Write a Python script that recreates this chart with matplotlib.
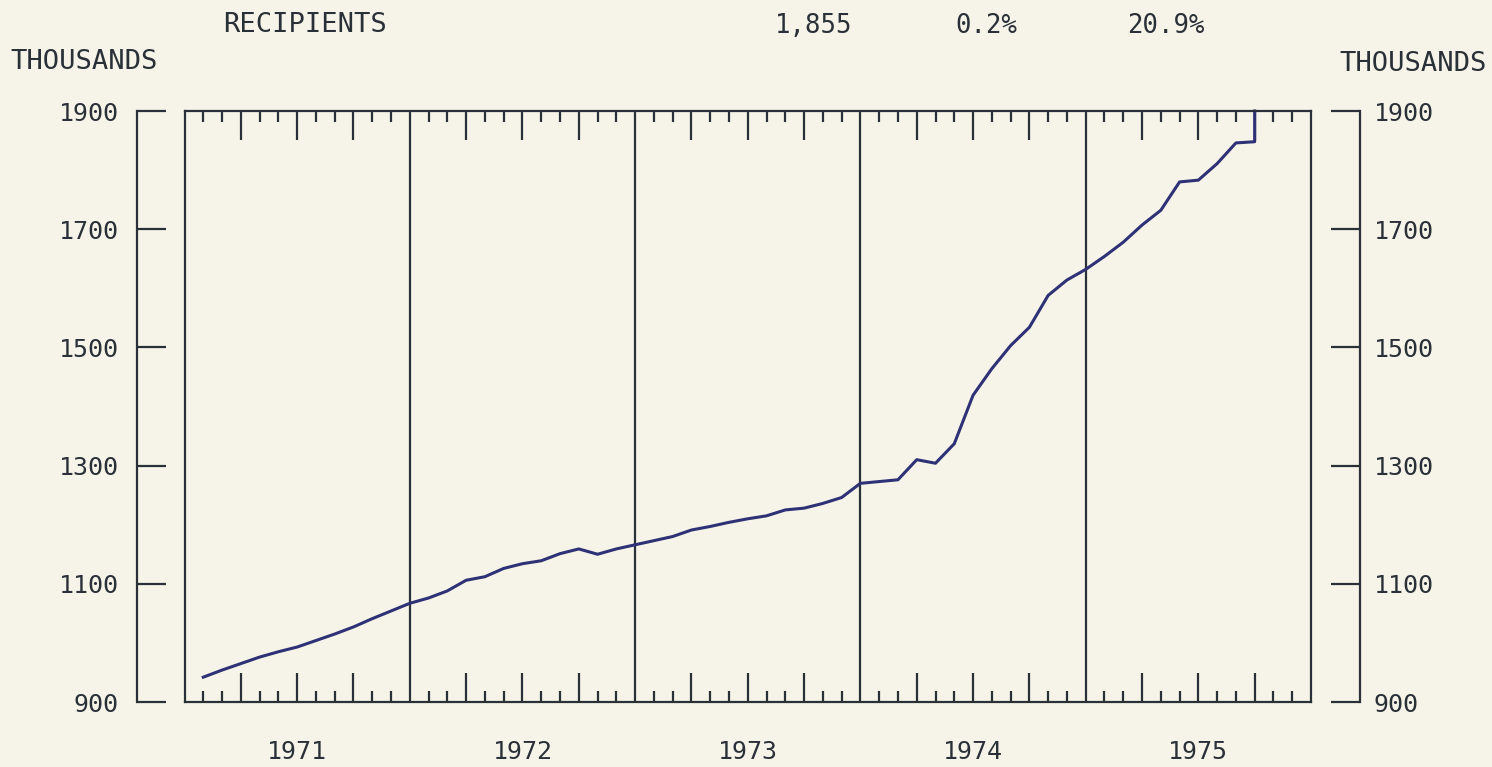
import matplotlib.pyplot as plt
import numpy as np
from matplotlib.ticker import FixedLocator
import matplotlib.transforms as mtransforms

# monthly recipients, thousands (month 1 = Jan 1971)
months = list(range(1, 58))
recipients = [942, 954, 965, 976, 985, 993, 1004, 1015, 1027, 1041, 1054, 1067,
              1076, 1088, 1106, 1112, 1126, 1134, 1139, 1151, 1159, 1150, 1159, 1166,
              1173, 1180, 1191, 1197, 1204, 1210, 1215, 1225, 1228, 1236, 1246, 1270,
              1273, 1276, 1310, 1304, 1337, 1419, 1464, 1503, 1534, 1588, 1614, 1632,
              1654, 1678, 1707, 1732, 1780, 1783, 1811, 1846, 1848]
years = ["1971", "1972", "1973", "1974", "1975"]
y_ticks = [900, 1100, 1300, 1500, 1700, 1900]
header = ["1,855", "0.2%", "20.9%"]

BG = "#f6f4e9"
INK = "#2a3038"
LINE = "#2e3175"

plt.rcParams['font.family'] = ['DejaVu Sans Mono', 'DejaVu Sans']

W, H = 1492, 767
fig = plt.figure(figsize=(W / 100, H / 100), dpi=100, facecolor=BG)

def px_axes(x0, y0, x1, y1):
    # pixel box (top-left origin) -> figure fraction
    return [x0 / W, 1 - y1 / H, (x1 - x0) / W, (y1 - y0) / H]

top, bottom = 111, 702
ax = fig.add_axes(px_axes(184.5, top, 1311, bottom))
ax.set_facecolor(BG)
ax.set_xlim(0, 60)
ax.set_ylim(900, 1900)
for s in ax.spines.values():
    s.set_color(INK)
    s.set_linewidth(1.6)

# year separators
for k in range(1, len(years)):
    ax.axvline(12 * k, color=INK, lw=1.6)

# month ticks (short) and quarter ticks (long), top and bottom
quarters = [12 * k + q for k in range(len(years)) for q in (3, 6, 9)]
minors = [m for m in range(1, 60) if m % 3 != 0]
ax.xaxis.set_major_locator(FixedLocator(quarters))
ax.xaxis.set_minor_locator(FixedLocator(minors))
ax.tick_params(axis='x', which='major', direction='in', length=21, width=1.6,
               color=INK, top=True, bottom=True, labelbottom=False)
ax.tick_params(axis='x', which='minor', direction='in', length=8, width=1.6,
               color=INK, top=True, bottom=True)
ax.set_yticks([])

trans = mtransforms.blended_transform_factory(ax.transData, ax.transAxes)
for k, yr in enumerate(years):
    ax.text(12 * k + 6, -0.085, yr, transform=trans, ha='center', va='center',
            fontsize=18, color=INK)

# data line (with the plotter's final jump to the top frame)
xs = months + [months[-1]]
ys = recipients + [1900]
ax.plot(xs, ys, color=LINE, lw=2.2, solid_joinstyle='round', clip_on=False)

# left bracket scale
axl = fig.add_axes(px_axes(137, top, 138, bottom))
axl.set_facecolor('none')
axl.set_ylim(900, 1900)
axl.set_xticks([])
axl.set_yticks(y_ticks)
for s in ['top', 'bottom', 'right']:
    axl.spines[s].set_visible(False)
axl.spines['left'].set_color(INK)
axl.spines['left'].set_linewidth(1.6)
axl.tick_params(axis='y', direction='in', length=21, width=1.6, color=INK,
                pad=13, labelsize=18, labelcolor=INK)

# right bracket scale
axr = fig.add_axes(px_axes(1359, top, 1360, bottom))
axr.set_facecolor('none')
axr.set_ylim(900, 1900)
axr.set_xticks([])
axr.yaxis.tick_right()
axr.set_yticks(y_ticks)
for s in ['top', 'bottom', 'left']:
    axr.spines[s].set_visible(False)
axr.spines['right'].set_color(INK)
axr.spines['right'].set_linewidth(1.6)
axr.tick_params(axis='y', direction='in', length=21, width=1.6, color=INK,
                pad=10, labelsize=18, labelcolor=INK)

# header texts
fig.text(84 / W, 1 - 62 / H, "THOUSANDS", ha='center', va='center', fontsize=19.5, color=INK)
fig.text(1413 / W, 1 - 64 / H, "THOUSANDS", ha='center', va='center', fontsize=19.5, color=INK)
fig.text(223 / W, 1 - 25 / H, "RECIPIENTS", ha='left', va='center', fontsize=19.5, color=INK)
for x0, t in zip([775, 955, 1127], header):
    fig.text(x0 / W, 1 - 26 / H, t, ha='left', va='center', fontsize=18.5, color=INK)

fig.savefig("out.png", dpi=100, facecolor=BG)
